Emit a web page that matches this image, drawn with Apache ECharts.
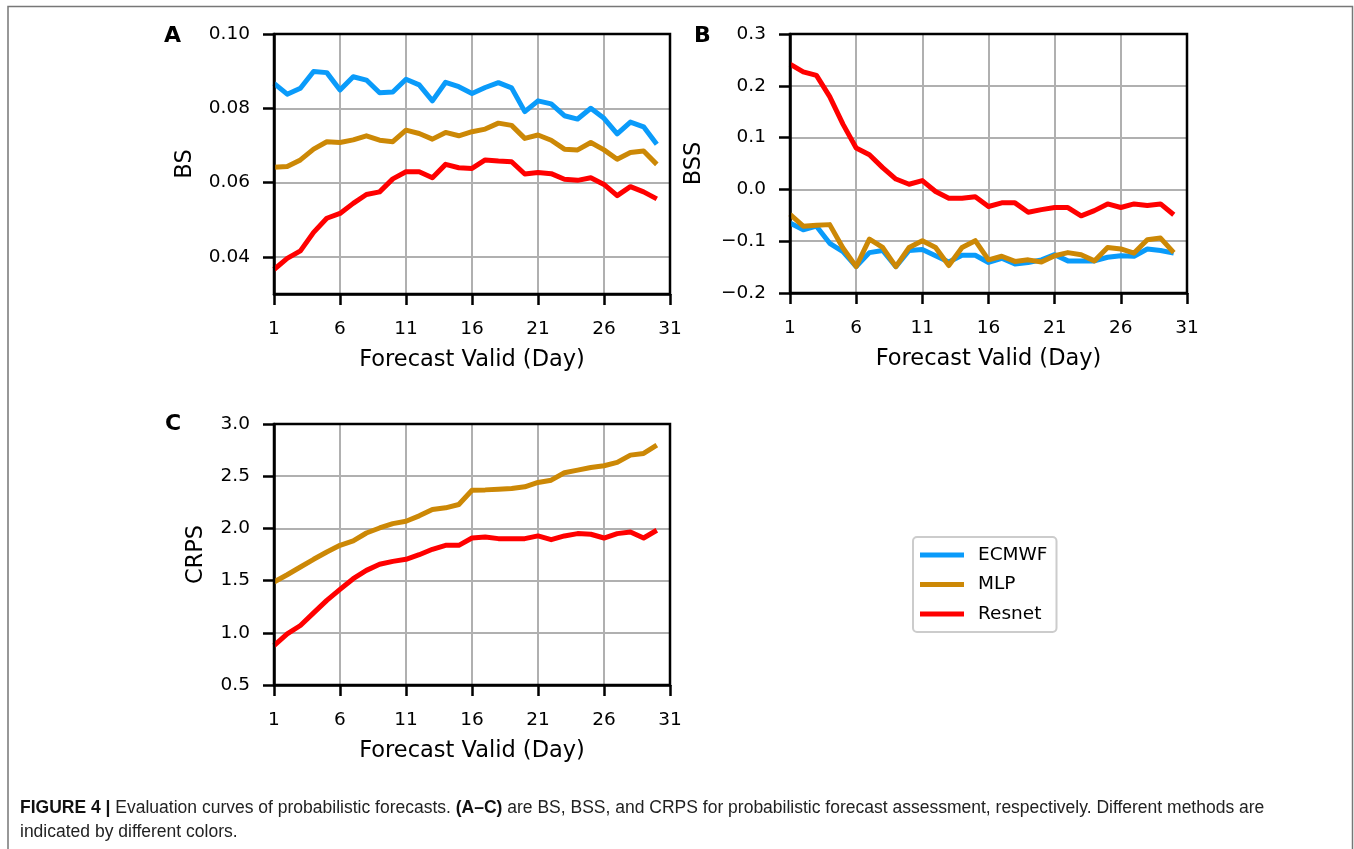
<!DOCTYPE html>
<html>
<head>
<meta charset="utf-8">
<script src="https://cdn.jsdelivr.net/npm/echarts@6/dist/echarts.min.js"></script>
<style>
  html, body { margin: 0; padding: 0; background: #fff; }
  #main { width: 1354px; height: 849px; }
</style>
</head>
<body>
<div id="main"></div>
<script>
// Forecast lead days
const days = [1,2,3,4,5,6,7,8,9,10,11,12,13,14,15,16,17,18,19,20,21,22,23,24,25,26,27,28,29,30];

// Panel A: Brier score
const bsEcmwf  = [0.0867,0.0838,0.0854,0.0899,0.0896,0.0849,0.0885,0.0876,0.0842,0.0844,0.0878,0.0863,0.0820,0.0870,0.0858,0.0840,0.0856,0.0869,0.0855,0.0791,0.0820,0.0812,0.0780,0.0771,0.0800,0.0773,0.0731,0.0763,0.0750,0.0703];
const bsMlp    = [0.0641,0.0643,0.0661,0.0690,0.0710,0.0708,0.0715,0.0726,0.0714,0.0710,0.0741,0.0732,0.0717,0.0735,0.0726,0.0737,0.0744,0.0760,0.0754,0.0719,0.0728,0.0714,0.0690,0.0688,0.0708,0.0688,0.0663,0.0681,0.0685,0.0649];
const bsResnet = [0.0366,0.0396,0.0416,0.0466,0.0504,0.0517,0.0544,0.0568,0.0575,0.0610,0.0629,0.0629,0.0613,0.0649,0.0640,0.0638,0.0661,0.0658,0.0656,0.0623,0.0627,0.0624,0.0609,0.0606,0.0613,0.0595,0.0565,0.0589,0.0575,0.0556];

// Panel B: Brier skill score
const bssEcmwf  = [-0.065,-0.078,-0.071,-0.104,-0.120,-0.149,-0.122,-0.118,-0.149,-0.118,-0.116,-0.128,-0.140,-0.127,-0.127,-0.141,-0.133,-0.144,-0.141,-0.136,-0.126,-0.138,-0.138,-0.138,-0.131,-0.128,-0.129,-0.115,-0.118,-0.123];
const bssMlp    = [-0.048,-0.071,-0.069,-0.068,-0.113,-0.149,-0.096,-0.112,-0.149,-0.112,-0.099,-0.112,-0.147,-0.112,-0.099,-0.136,-0.129,-0.139,-0.136,-0.140,-0.128,-0.122,-0.126,-0.138,-0.112,-0.115,-0.123,-0.097,-0.094,-0.122];
const bssResnet = [0.242,0.227,0.220,0.179,0.126,0.080,0.067,0.042,0.020,0.010,0.017,-0.004,-0.017,-0.017,-0.014,-0.033,-0.026,-0.026,-0.044,-0.039,-0.035,-0.035,-0.051,-0.041,-0.028,-0.035,-0.028,-0.031,-0.028,-0.049];

// Panel C: CRPS
const crpsMlp    = [1.486,1.556,1.630,1.704,1.774,1.838,1.880,1.956,2.004,2.046,2.069,2.120,2.181,2.197,2.229,2.366,2.369,2.376,2.382,2.398,2.440,2.462,2.533,2.558,2.584,2.600,2.632,2.702,2.718,2.798];
const crpsResnet = [0.878,0.990,1.070,1.191,1.310,1.416,1.518,1.598,1.656,1.684,1.704,1.748,1.800,1.838,1.838,1.908,1.918,1.902,1.902,1.902,1.928,1.892,1.928,1.950,1.944,1.908,1.950,1.966,1.908,1.982];

// Tick values
const dayTicks  = [1, 6, 11, 16, 21, 26, 31];
const bsTicks   = [0.04, 0.06, 0.08, 0.10];
const bssTicks  = [-0.2, -0.1, 0.0, 0.1, 0.2, 0.3];
const crpsTicks = [0.5, 1.0, 1.5, 2.0, 2.5, 3.0];

const methods = ['ECMWF', 'MLP', 'Resnet'];
const colors = { ECMWF: '#0a9bfa', MLP: '#cc8806', Resnet: '#ff0000' };

const FONT = 'DejaVu Sans';
const TICK = 18.5;
const TITLE = 22.5;

// Plot boxes of the three panels
const panels = [
  { left: 274, top: 34, width: 396, height: 260 },
  { left: 790, top: 34, width: 397, height: 259 },
  { left: 274, top: 424, width: 396, height: 261 }
];

const minus = s => s.replace('-', '\u2212');

function xAxisFor(gridIndex) {
  return {
    type: 'value', gridIndex, min: 1, max: 31,
    name: 'Forecast Valid (Day)', nameLocation: 'middle', nameGap: 55,
    nameTextStyle: { fontFamily: FONT, fontSize: TITLE, color: '#000' },
    axisLine: { show: true, onZero: false, lineStyle: { color: '#000', width: 2.5 } },
    axisTick: { show: true, inside: false, length: 11, customValues: dayTicks, lineStyle: { color: '#000', width: 2.5 } },
    axisLabel: { customValues: dayTicks, margin: 26, fontFamily: FONT, fontSize: TICK, color: '#000' },
    splitLine: { show: true, lineStyle: { color: '#b0b0b0', width: 2 } }
  };
}

function yAxisFor(gridIndex, name, min, max, ticks, digits, gap) {
  return {
    type: 'value', gridIndex, min, max,
    name, nameLocation: 'middle', nameGap: gap,
    nameTextStyle: { fontFamily: FONT, fontSize: TITLE, color: '#000' },
    axisLine: { show: true, onZero: false, lineStyle: { color: '#000', width: 2.5 } },
    axisTick: { show: true, inside: false, length: 11, customValues: ticks, lineStyle: { color: '#000', width: 2.5 } },
    axisLabel: {
      customValues: ticks, margin: 24, fontFamily: FONT, fontSize: TICK, color: '#000',
      formatter: v => minus(Number(v).toFixed(digits))
    },
    splitLine: { show: true, lineStyle: { color: '#b0b0b0', width: 2 } }
  };
}

function lineSeries(name, values, axisIndex) {
  return {
    name, type: 'line', xAxisIndex: axisIndex, yAxisIndex: axisIndex,
    data: days.map((d, i) => [d, values[i]]),
    showSymbol: false, symbol: 'none', silent: true,
    lineStyle: { color: colors[name], width: 5, join: 'round' },
    itemStyle: { color: colors[name] },
    animation: false
  };
}

const panelLetter = (text, x, y) => ({
  type: 'text', left: x, top: y,
  style: { text, fontFamily: FONT, fontWeight: 'bold', fontSize: 22, fill: '#000' }
});

// Black frame (spines) drawn above grid lines
const spines = panels.map(p => ({
  type: 'rect', z: 100, silent: true,
  shape: { x: p.left, y: p.top, width: p.width, height: p.height },
  style: { stroke: '#000', lineWidth: 2.5, fill: null }
}));

const chart = echarts.init(document.getElementById('main'), null, { renderer: 'canvas' });

chart.setOption({
  animation: false,
  backgroundColor: '#fff',
  grid: panels.map(p => Object.assign({ show: false }, p)),
  xAxis: [xAxisFor(0), xAxisFor(1), xAxisFor(2)],
  yAxis: [
    yAxisFor(0, 'BS', 0.03, 0.10, bsTicks, 2, 77),
    yAxisFor(1, 'BSS', -0.2, 0.3, bssTicks, 1, 84),
    yAxisFor(2, 'CRPS', 0.5, 3.0, crpsTicks, 1, 66)
  ],
  legend: {
    data: methods.map(name => ({ name, icon: 'rect' })),
    orient: 'vertical',
    left: 913, top: 537,
    padding: [8, 9, 8, 7],
    itemWidth: 44, itemHeight: 5, itemGap: 9.5,
    backgroundColor: '#fff',
    borderColor: '#cccccc', borderWidth: 2, borderRadius: 4,
    textStyle: { fontFamily: FONT, fontSize: TICK, lineHeight: 20, color: '#000', padding: [0, 0, 0, 9] },
    selectedMode: false
  },
  series: [
    lineSeries('ECMWF', bsEcmwf, 0),
    lineSeries('MLP', bsMlp, 0),
    lineSeries('Resnet', bsResnet, 0),
    lineSeries('ECMWF', bssEcmwf, 1),
    lineSeries('MLP', bssMlp, 1),
    lineSeries('Resnet', bssResnet, 1),
    lineSeries('MLP', crpsMlp, 2),
    lineSeries('Resnet', crpsResnet, 2)
  ],
  graphic: spines.concat([
    // outer frame around the figure
    { type: 'polyline', shape: { points: [[8, 860], [8, 6.5], [1352.5, 6.5], [1352.5, 860]] },
      style: { stroke: '#777', lineWidth: 1.5, fill: null }, silent: true },
    panelLetter('A', 164, 25),
    panelLetter('B', 694, 25),
    panelLetter('C', 165, 413),
    {
      type: 'text', left: 20, top: 796,
      style: {
        text: '{b|FIGURE 4 |} Evaluation curves of probabilistic forecasts. {b|(A\u2013C)} are BS, BSS, and CRPS for probabilistic forecast assessment, respectively. Different methods are\nindicated by different colors.',
        fontFamily: 'Liberation Sans', fontSize: 17.5, lineHeight: 24, fill: '#222',
        rich: { b: { fontFamily: 'Liberation Sans', fontWeight: 'bold', fontSize: 17.5, lineHeight: 24, fill: '#111' } }
      }
    }
  ])
});
</script>
</body>
</html>
